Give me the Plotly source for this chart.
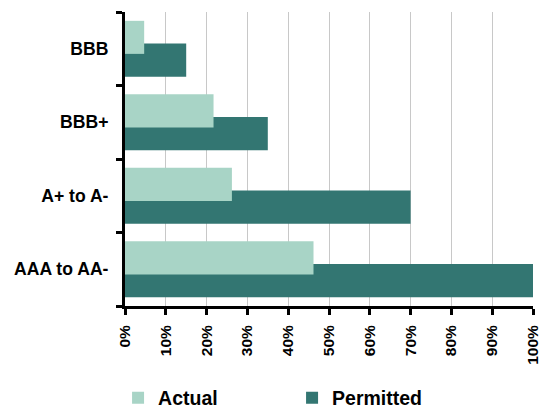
import plotly.graph_objects as go

# Credit rating buckets (bottom to top on the chart)
ratings = ["AAA to AA-", "A+ to A-", "BBB+", "BBB"]
actual = [0.462, 0.262, 0.217, 0.047]
permitted = [1.00, 0.70, 0.35, 0.15]

x_ticks = [i / 10 for i in range(11)]

LIGHT = "#a8d4c6"
DARK = "#337672"
FONT = "Arial, Liberation Sans, sans-serif"

fig = go.Figure()

# Permitted drawn first so the Actual bar sits on top where they overlap
fig.add_trace(go.Bar(
    y=ratings, x=permitted, orientation="h", name="Permitted",
    marker=dict(color=DARK, line=dict(width=0)),
    width=0.45, offset=-0.38, legendrank=2,
))
fig.add_trace(go.Bar(
    y=ratings, x=actual, orientation="h", name="Actual",
    marker=dict(color=LIGHT, line=dict(width=0)),
    width=0.45, offset=-0.07, legendrank=1,
))

fig.update_layout(
    width=550, height=411,
    margin=dict(l=125, r=17, t=12, b=105, autoexpand=False),
    barmode="overlay",
    plot_bgcolor="white", paper_bgcolor="white",
    font=dict(family=FONT, color="black", weight="bold"),
    showlegend=True,
    legend=dict(
        orientation="h", x=-0.017, xanchor="left", y=-0.313, yanchor="middle",
        font=dict(size=19.5, family=FONT, weight="bold"),
        entrywidth=129, itemwidth=30, bgcolor="rgba(0,0,0,0)",
    ),
    xaxis=dict(
        range=[0, 1], tickvals=x_ticks, tickformat=".0%",
        tickangle=-90, tickfont=dict(size=15.5, family=FONT, weight="bold"),
        showgrid=True, gridcolor="#c8c8c8", gridwidth=1,
        showline=True, linecolor="black", linewidth=3,
        ticks="outside", ticklen=6, tickwidth=3, tickcolor="black",
        zeroline=False, fixedrange=True, ticklabelstandoff=4,
        automargin=False,
    ),
    yaxis=dict(
        categoryorder="array", categoryarray=ratings,
        tickfont=dict(size=17.6, family=FONT, weight="bold"),
        showline=True, linecolor="black", linewidth=3,
        ticks="outside", tickson="boundaries", ticklen=6, tickwidth=3,
        tickcolor="black", showgrid=False, fixedrange=True,
        ticklabelstandoff=10, automargin=False,
    ),
)

fig.write_html("out.html")
